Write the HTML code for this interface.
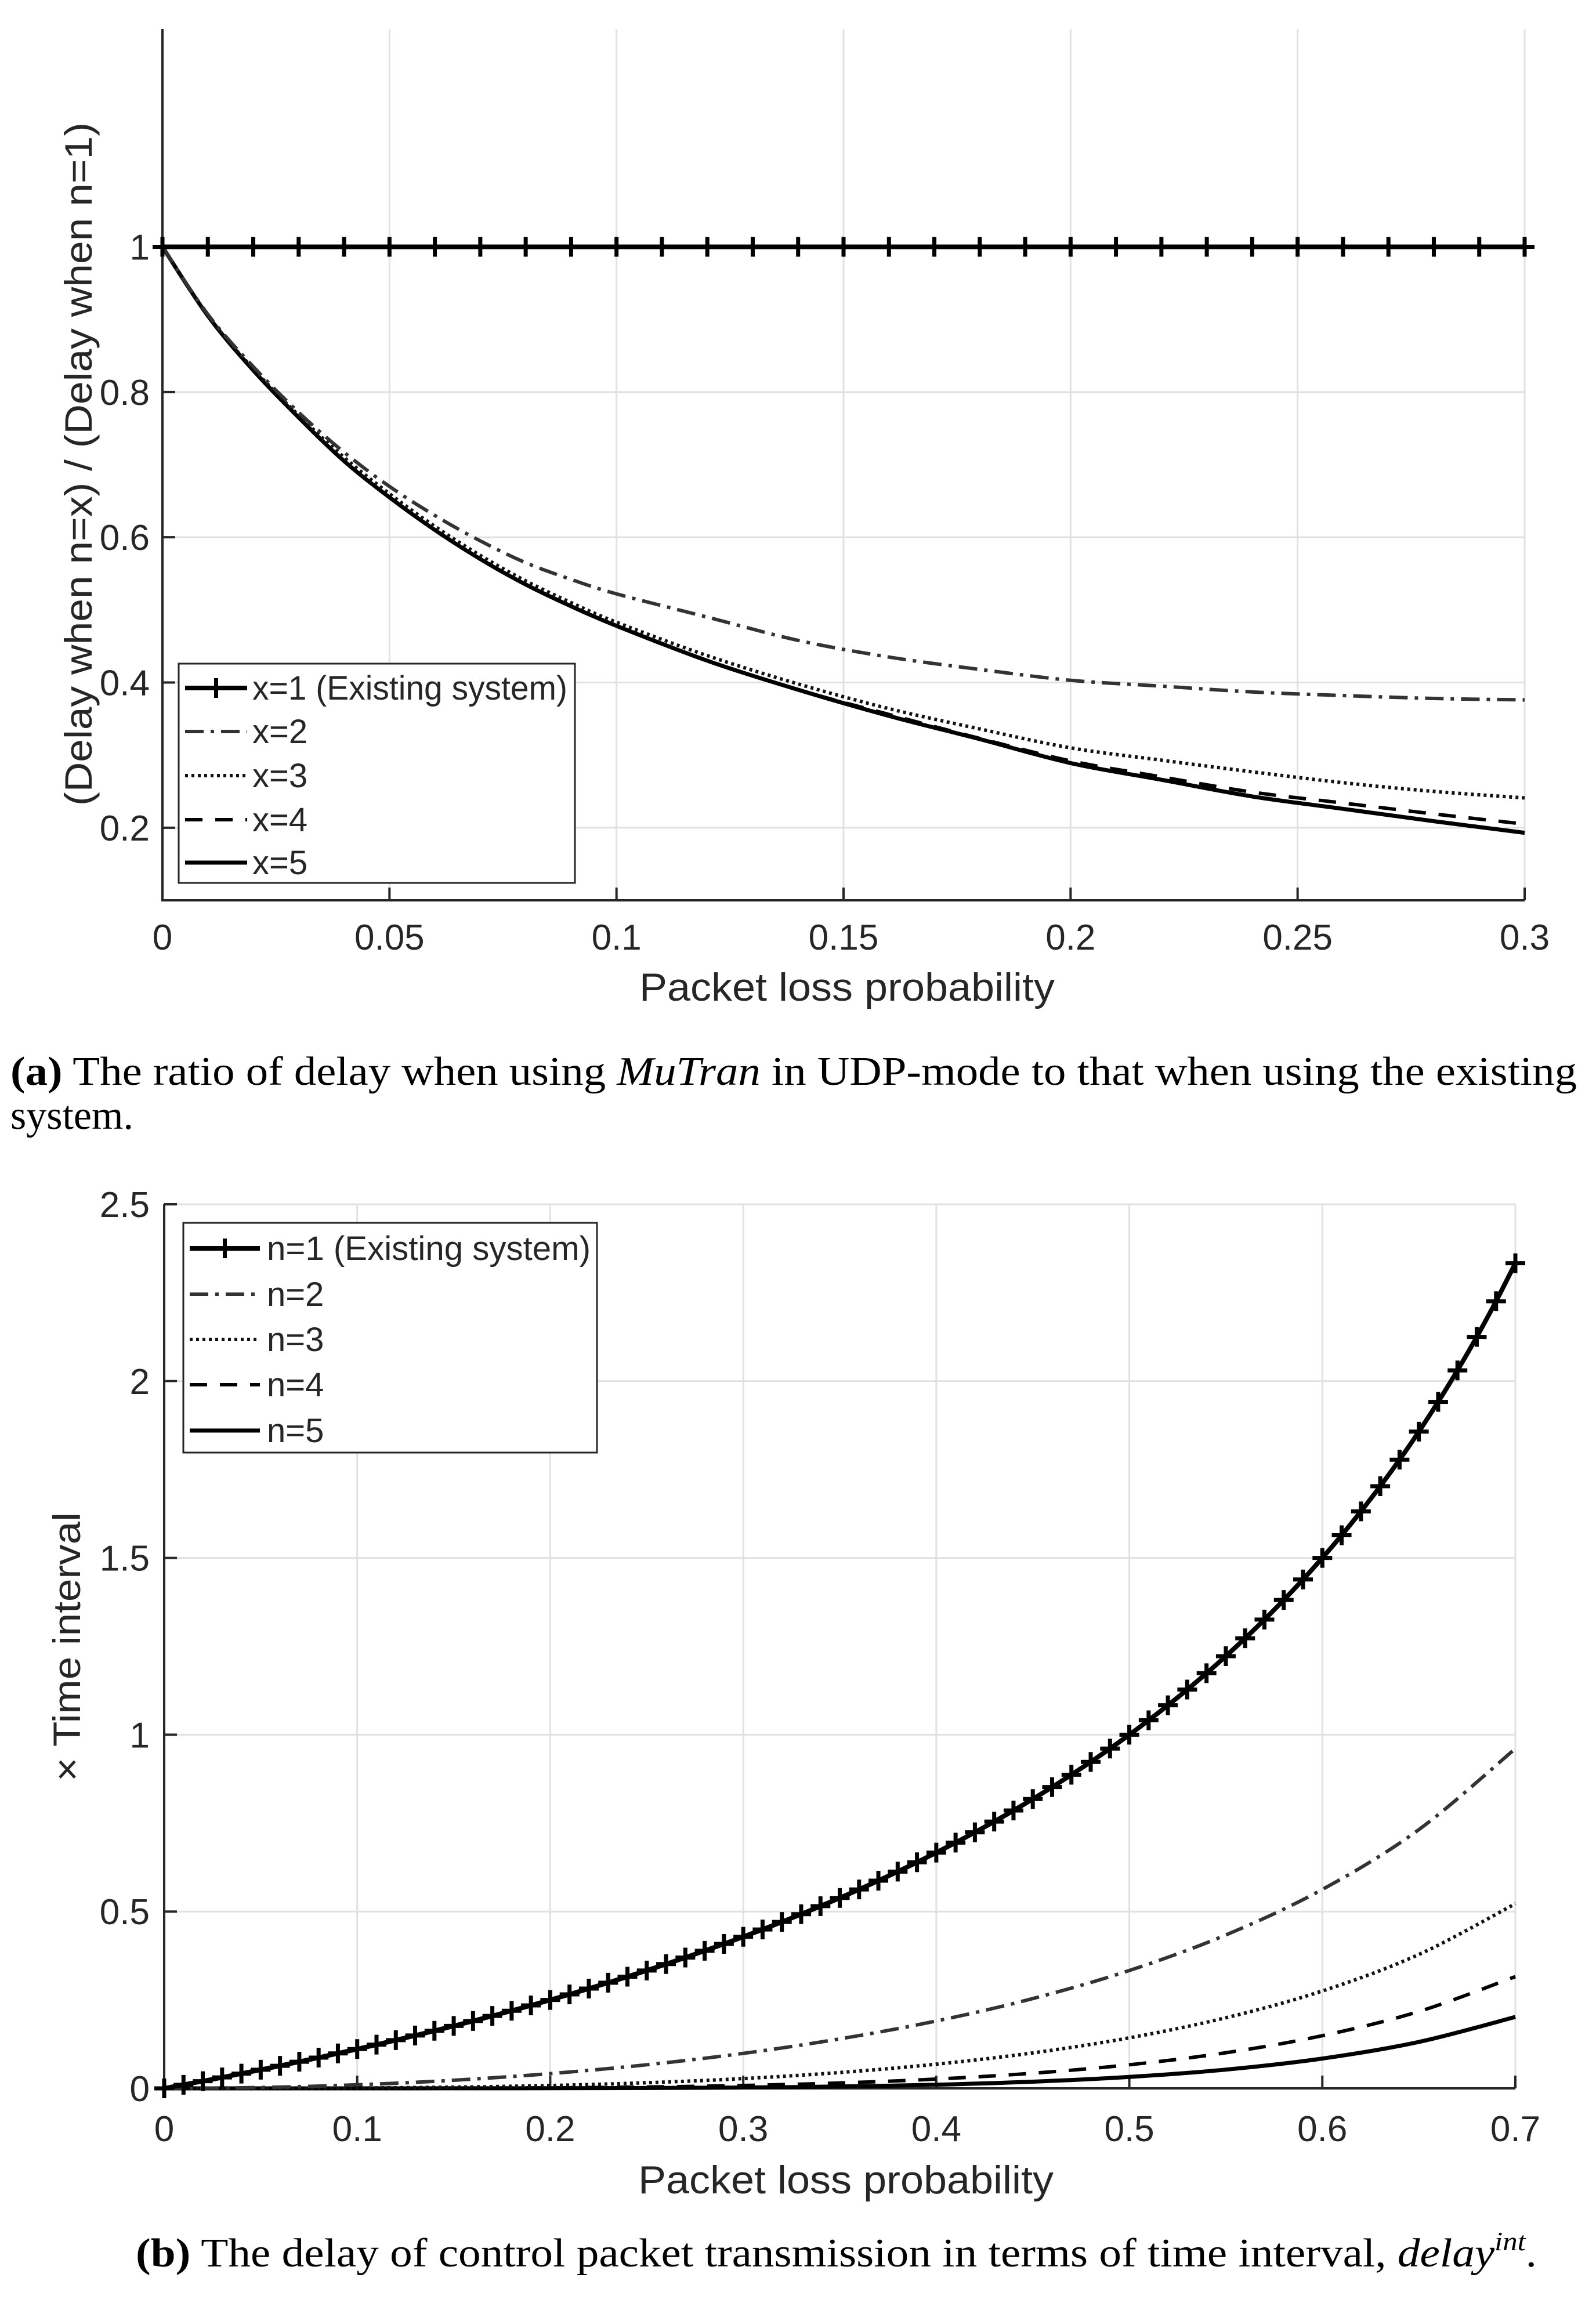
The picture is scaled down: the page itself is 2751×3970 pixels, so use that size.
<!DOCTYPE html>
<html><head><meta charset="utf-8">
<style>
html,body{margin:0;padding:0;background:#fff;}
svg{display:block;}
text{font-family:"Liberation Sans",Arial,sans-serif;fill:#262626;}
.cap{font-family:"Liberation Serif",serif;fill:#000;}
</style></head>
<body>
<svg id="fig" width="2751" height="3970" viewBox="0 0 2751 3970" xmlns="http://www.w3.org/2000/svg">
<g id="chartA"></g>
<g id="chartB"></g>
<text class="cap" x="18" y="1870" font-size="70" textLength="2700" lengthAdjust="spacingAndGlyphs"><tspan font-weight="bold">(a)</tspan> The ratio of delay when using <tspan font-style="italic">MuTran</tspan> in UDP-mode to that when using the existing</text>
<text class="cap" x="18" y="1946" font-size="70">system.</text>
<text class="cap" x="234" y="3907" font-size="70" textLength="2415" lengthAdjust="spacingAndGlyphs"><tspan font-weight="bold">(b)</tspan> The delay of control packet transmission in terms of time interval, <tspan font-style="italic">delay</tspan><tspan font-style="italic" font-size="46" dy="-28">int</tspan><tspan dy="28">.</tspan></text>
</svg>
<script>
// ---------- Chart A data ----------
const aX = [0,0.01,0.02,0.03,0.04,0.05,0.06,0.07,0.08,0.09,0.1,0.12,0.14,0.16,0.18,0.2,0.22,0.24,0.26,0.28,0.3];
const aX1 = [0,0.01,0.02,0.03,0.04,0.05,0.06,0.07,0.08,0.09,0.1,0.11,0.12,0.13,0.14,0.15,0.16,0.17,0.18,0.19,0.2,0.21,0.22,0.23,0.24,0.25,0.26,0.27,0.28,0.29,0.3];
const aS1 = [1,1,1,1,1,1,1,1,1,1,1,1,1,1,1,1,1,1,1,1,1,1,1,1,1,1,1,1,1,1,1];
const aS2 = [1,0.907,0.835,0.772,0.717,0.67,0.63,0.595,0.565,0.542,0.522,0.49,0.458,0.435,0.418,0.403,0.395,0.387,0.382,0.378,0.376];
const aS3 = [1,0.905,0.832,0.768,0.71,0.66,0.615,0.575,0.54,0.51,0.483,0.437,0.398,0.364,0.336,0.31,0.293,0.277,0.262,0.25,0.241];
const aS4 = [1,0.905,0.83,0.765,0.705,0.655,0.61,0.57,0.535,0.505,0.478,0.43,0.39,0.356,0.323,0.292,0.27,0.249,0.234,0.219,0.205];
const aS5 = [1,0.905,0.83,0.765,0.705,0.655,0.61,0.57,0.535,0.505,0.478,0.43,0.39,0.354,0.322,0.289,0.266,0.243,0.226,0.209,0.193];
const aXTicks = [0,0.05,0.1,0.15,0.2,0.25,0.3];
const aXTickLabels = ["0","0.05","0.1","0.15","0.2","0.25","0.3"];
const aYTicks = [0.2,0.4,0.6,0.8,1];
const aYTickLabels = ["0.2","0.4","0.6","0.8","1"];
const aLegend = ["x=1 (Existing system)","x=2","x=3","x=4","x=5"];

// ---------- Chart B data ----------
const bX = [0,0.05,0.1,0.15,0.2,0.25,0.3,0.35,0.4,0.45,0.5,0.55,0.6,0.65,0.7];
const bX1 = [0,0.01,0.02,0.03,0.04,0.05,0.06,0.07,0.08,0.09,0.1,0.11,0.12,0.13,0.14,0.15,0.16,0.17,0.18,0.19,0.2,0.21,0.22,0.23,0.24,0.25,0.26,0.27,0.28,0.29,0.3,0.31,0.32,0.33,0.34,0.35,0.36,0.37,0.38,0.39,0.4,0.41,0.42,0.43,0.44,0.45,0.46,0.47,0.48,0.49,0.5,0.51,0.52,0.53,0.54,0.55,0.56,0.57,0.58,0.59,0.6,0.61,0.62,0.63,0.64,0.65,0.66,0.67,0.68,0.69,0.7];
const bS1 = [0,0.0101,0.0204,0.0309,0.0417,0.0526,0.0638,0.0753,0.087,0.0989,0.1111,0.1236,0.1364,0.1494,0.1628,0.1765,0.1905,0.2048,0.2195,0.2346,0.25,0.2658,0.2821,0.2987,0.3158,0.3333,0.3514,0.3699,0.3889,0.4085,0.4286,0.4493,0.4706,0.4925,0.5152,0.5385,0.5625,0.5873,0.6129,0.6393,0.6667,0.6949,0.7241,0.7544,0.7857,0.8182,0.8519,0.8868,0.9231,0.9608,1,1.0408,1.0833,1.1277,1.1739,1.2222,1.2727,1.3256,1.381,1.439,1.5,1.5641,1.6316,1.7027,1.7778,1.8571,1.9412,2.0303,2.125,2.2258,2.3333];
const bS2 = [0,0.0025,0.0101,0.023,0.0417,0.0667,0.0989,0.1399,0.1905,0.2539,0.3333,0.4337,0.5625,0.7316,0.9608];
const bS3 = [0,0.0001,0.001,0.0034,0.0081,0.0159,0.0277,0.0448,0.0684,0.1003,0.1429,0.1996,0.2755,0.3786,0.5221];
const bS4 = [0,0,0.0001,0.0005,0.0016,0.0039,0.0082,0.0152,0.0263,0.0428,0.0667,0.1007,0.1489,0.2173,0.316];
const bS5 = [0,0,0,0.0001,0.0003,0.001,0.0024,0.0053,0.0103,0.0188,0.0323,0.053,0.0843,0.1312,0.202];
const bXTicks = [0,0.1,0.2,0.3,0.4,0.5,0.6,0.7];
const bXTickLabels = ["0","0.1","0.2","0.3","0.4","0.5","0.6","0.7"];
const bYTicks = [0,0.5,1,1.5,2,2.5];
const bYTickLabels = ["0","0.5","1","1.5","2","2.5"];
const bLegend = ["n=1 (Existing system)","n=2","n=3","n=4","n=5"];

const NS = "http://www.w3.org/2000/svg";
function mk(tag, attrs, parent){
  const e = document.createElementNS(NS, tag);
  for (const k in attrs) e.setAttribute(k, attrs[k]);
  parent.appendChild(e);
  return e;
}
const styles = [
  {w:8, dash:"", color:"#000"},
  {w:6, dash:"32 12 6 12", color:"#333"},
  {w:6, dash:"5 6", color:"#111"},
  {w:6, dash:"30 22", color:"#000"},
  {w:7, dash:"", color:"#000"}
];

function smoothPath(pts){
  let d = "M" + pts[0][0].toFixed(1) + " " + pts[0][1].toFixed(1);
  for (let i = 0; i < pts.length - 1; i++) {
    const p0 = pts[Math.max(0, i-1)], p1 = pts[i], p2 = pts[i+1], p3 = pts[Math.min(pts.length-1, i+2)];
    const c1x = p1[0] + (p2[0]-p0[0])/6, c1y = p1[1] + (p2[1]-p0[1])/6;
    const c2x = p2[0] - (p3[0]-p1[0])/6, c2y = p2[1] - (p3[1]-p1[1])/6;
    d += `C${c1x.toFixed(1)} ${c1y.toFixed(1)} ${c2x.toFixed(1)} ${c2y.toFixed(1)} ${p2[0].toFixed(1)} ${p2[1].toFixed(1)}`;
  }
  return d;
}

function drawChart(g, cfg){
  const sx = v => cfg.x0 + (v - cfg.xmin) / (cfg.xmax - cfg.xmin) * (cfg.x1 - cfg.x0);
  const sy = v => cfg.yb - (v - cfg.ymin) / (cfg.ymax - cfg.ymin) * (cfg.yb - cfg.yt);
  cfg.xTicks.forEach((t,i) => {
    if (t !== cfg.xmin) {
      const l = mk("line", {x1:sx(t), x2:sx(t), y1:cfg.yt, y2:cfg.yb, stroke:"#e1e1e1", "stroke-width":3}, g);
      
      
    }
    const tk = mk("line", {x1:sx(t), x2:sx(t), y1:cfg.yb, y2:cfg.yb-22, stroke:"#262626", "stroke-width":4}, g);
    
    
    const tx = mk("text", {x:sx(t), y:cfg.xLabY, "font-size":62, "text-anchor":"middle"}, g);
    tx.textContent = cfg.xLabels[i];
    
    
  });
  cfg.yTicks.forEach((t,i) => {
    if (t !== cfg.ymin) {
      const l = mk("line", {x1:cfg.x0, x2:cfg.x1, y1:sy(t), y2:sy(t), stroke:"#e1e1e1", "stroke-width":3}, g);
      
      
    }
    const tk = mk("line", {x1:cfg.x0, x2:cfg.x0+22, y1:sy(t), y2:sy(t), stroke:"#262626", "stroke-width":4}, g);
    
    
    const tx = mk("text", {x:cfg.yLabX, y:sy(t)+22, "font-size":62, "text-anchor":"end"}, g);
    tx.textContent = cfg.yLabels[i];
    
    
  });
  const ax = mk("path", {d:`M${cfg.x0} ${cfg.yt} L${cfg.x0} ${cfg.yb} L${cfg.x1} ${cfg.yb}`, fill:"none", stroke:"#262626", "stroke-width":4}, g);
  
  
  for (let s = cfg.series.length - 1; s >= 0; s--) {
    const xs = cfg.seriesX[s], ys = cfg.series[s], st = styles[s];
    const pts = xs.map((x,i) => [sx(x), sy(ys[i])]);
    const p = mk("path", {d:smoothPath(pts), fill:"none", stroke:st.color, "stroke-width":st.w, "stroke-linejoin":"round"}, g);
    if (st.dash) p.setAttribute("stroke-dasharray", st.dash);
    
    
    if (s === 0) {
      pts.forEach(pt => {
        const cx = pt[0], cy = pt[1];
        const m = mk("path", {d:`M${cx-17} ${cy}H${cx+17}M${cx} ${cy-17}V${cy+17}`, stroke:"#000", "stroke-width":7}, g);
        
        
      });
    }
  }
  const L = cfg.legend;
  const box = mk("rect", {x:L.x, y:L.y, width:L.w, height:L.h, fill:"#fff", stroke:"#262626", "stroke-width":3}, g);
  
  
  cfg.legendLabels.forEach((lab,i) => {
    const y = L.rows[i], st = styles[i];
    const ln = mk("line", {x1:L.lx0, x2:L.lx1, y1:y, y2:y, stroke:st.color, "stroke-width":st.w}, g);
    if (st.dash) ln.setAttribute("stroke-dasharray", st.dash);
    
    
    if (i === 0) {
      const cx = (L.lx0 + L.lx1) / 2;
      const m = mk("path", {d:`M${cx-17} ${y}H${cx+17}M${cx} ${y-17}V${y+17}`, stroke:"#000", "stroke-width":7}, g);
      
      
    }
    const t = mk("text", {x:L.tx, y:y+20, "font-size":58}, g);
    if (i === 0) { t.setAttribute("textLength", L.tl); t.setAttribute("lengthAdjust", "spacingAndGlyphs"); }
    t.textContent = lab;
    
    
  });
  const xt = mk("text", {x:cfg.xTitleX, y:cfg.xTitleY, "font-size":68, "text-anchor":"middle", textLength:716, lengthAdjust:"spacingAndGlyphs"}, g);
  xt.textContent = "Packet loss probability";
  
  
  const yt = mk("text", {x:0, y:0, "font-size":66, "text-anchor":"middle", transform:`translate(${cfg.yTitleX} ${cfg.yTitleY}) rotate(-90)`, textLength:cfg.yTitleLen, lengthAdjust:"spacingAndGlyphs"}, g);
  yt.textContent = cfg.yTitle;
  
  
}

drawChart(document.getElementById("chartA"), {
  x0:280, x1:2628, xmin:0, xmax:0.3, yt:50, yb:1552, ymin:0.1, ymax:1.3,
  xTicks:aXTicks, xLabels:aXTickLabels, yTicks:aYTicks, yLabels:aYTickLabels,
  xLabY:1637, yLabX:258,
  seriesX:[aX1,aX,aX,aX,aX], series:[aS1,aS2,aS3,aS4,aS5],
  legendLabels:aLegend,
  legend:{x:308,y:1144,w:683,h:378,rows:[1186,1261,1337,1413,1487],lx0:319,lx1:426,tx:435,tl:543},
  xTitleX:1460, xTitleY:1725, yTitleX:158, yTitleY:800, yTitleLen:1178,
  yTitle:"(Delay when n=x) / (Delay when n=1)"
});
drawChart(document.getElementById("chartB"), {
  x0:283, x1:2612, xmin:0, xmax:0.7, yt:2076, yb:3600, ymin:0, ymax:2.5,
  xTicks:bXTicks, xLabels:bXTickLabels, yTicks:bYTicks, yLabels:bYTickLabels,
  xLabY:3691, yLabX:258,
  seriesX:[bX1,bX,bX,bX,bX], series:[bS1,bS2,bS3,bS4,bS5],
  legendLabels:bLegend,
  legend:{x:316,y:2108,w:713,h:396,rows:[2152,2231,2309,2387,2466],lx0:327,lx1:448,tx:460,tl:558},
  xTitleX:1458, xTitleY:3781, yTitleX:138, yTitleY:2839, yTitleLen:464,
  yTitle:"× Time interval"
});
</script>
</body></html>
